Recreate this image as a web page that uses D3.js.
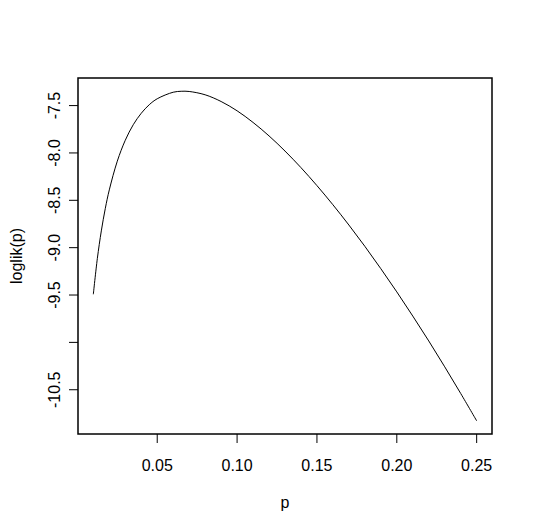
<!DOCTYPE html>
<html lang="en">
<head>
  <meta charset="UTF-8">
  <title>loglik(p)</title>
  <script src="https://d3js.org/d3.v7.min.js"></script>
  <style>
    html, body { margin: 0; padding: 0; background: #fff; }
    svg { display: block; }
    text { font-family: "Liberation Sans", Arial, sans-serif; font-size: 16px; fill: #000; }
  </style>
</head>
<body>
  <svg width="533" height="532"></svg>

  <script>
    // values
    const pValues = [0.01, 0.0125, 0.015, 0.0175, 0.02, 0.025, 0.03, 0.035, 0.04, 0.045, 0.05,
                     0.06, 0.065, 0.07, 0.08, 0.09, 0.10, 0.11, 0.12, 0.13, 0.14, 0.15, 0.16,
                     0.17, 0.18, 0.19, 0.20, 0.21, 0.22, 0.23, 0.24, 0.25];
    const loglikValues = [-9.492, -9.116, -8.823, -8.585, -8.390, -8.087, -7.866, -7.702, -7.581, -7.491, -7.428,
                          -7.359, -7.349, -7.351, -7.386, -7.457, -7.555, -7.678, -7.820, -7.980, -8.155, -8.345, -8.547,
                          -8.761, -8.986, -9.222, -9.467, -9.722, -9.985, -10.258, -10.539, -10.828];
    const xTicks = [0.05, 0.10, 0.15, 0.20, 0.25];
    const xTickLabels = ["0.05", "0.10", "0.15", "0.20", "0.25"];
    const yTicks = [-10.5, -10.0, -9.5, -9.0, -8.5, -8.0, -7.5];
    const yTickLabels = ["-10.5", "", "-9.5", "-9.0", "-8.5", "-8.0", "-7.5"];

    const svg = d3.select("svg");
    const box = { left: 78, right: 492, top: 78, bottom: 434 };

    // R style: data range padded by 4%
    const pad = ([a, b]) => [a - (b - a) * 0.04, b + (b - a) * 0.04];
    const x = d3.scaleLinear().domain(pad(d3.extent(pValues))).range([box.left, box.right]);
    const y = d3.scaleLinear().domain(pad([-10.828, -7.348])).range([box.bottom, box.top]);

    const pts = pValues.map((p, i) => [p, loglikValues[i]]);

    svg.append("path")
      .datum(pts)
      .attr("fill", "none")
      .attr("stroke", "#000")
      .attr("stroke-width", 1)
      .attr("d", d3.line().x(d => x(d[0])).y(d => y(d[1])).curve(d3.curveCatmullRom));

    // box
    svg.append("rect")
      .attr("x", box.left).attr("y", box.top)
      .attr("width", box.right - box.left).attr("height", box.bottom - box.top)
      .attr("fill", "none").attr("stroke", "#000").attr("stroke-width", 1.5);

    // x axis
    const xa = svg.append("g");
    xa.selectAll("line").data(xTicks).join("line")
      .attr("x1", d => x(d)).attr("x2", d => x(d))
      .attr("y1", box.bottom).attr("y2", box.bottom + 9)
      .attr("stroke", "#000");
    xa.selectAll("text").data(xTicks).join("text")
      .attr("x", d => x(d)).attr("y", 471)
      .attr("text-anchor", "middle")
      .text((d, i) => xTickLabels[i]);

    // y axis
    const ya = svg.append("g");
    ya.selectAll("line").data(yTicks).join("line")
      .attr("x1", box.left - 9).attr("x2", box.left)
      .attr("y1", d => y(d)).attr("y2", d => y(d))
      .attr("stroke", "#000");
    ya.selectAll("text").data(yTicks).join("text")
      .attr("transform", d => `translate(59.5,${y(d)}) rotate(-90)`)
      .attr("text-anchor", "middle")
      .text((d, i) => yTickLabels[i]);

    // axis titles
    svg.append("text")
      .attr("x", (box.left + box.right) / 2).attr("y", 508)
      .attr("text-anchor", "middle")
      .text("p");
    svg.append("text")
      .attr("transform", `translate(22,${(box.top + box.bottom) / 2}) rotate(-90)`)
      .attr("text-anchor", "middle")
      .text("loglik(p)");
  </script>
</body>
</html>
